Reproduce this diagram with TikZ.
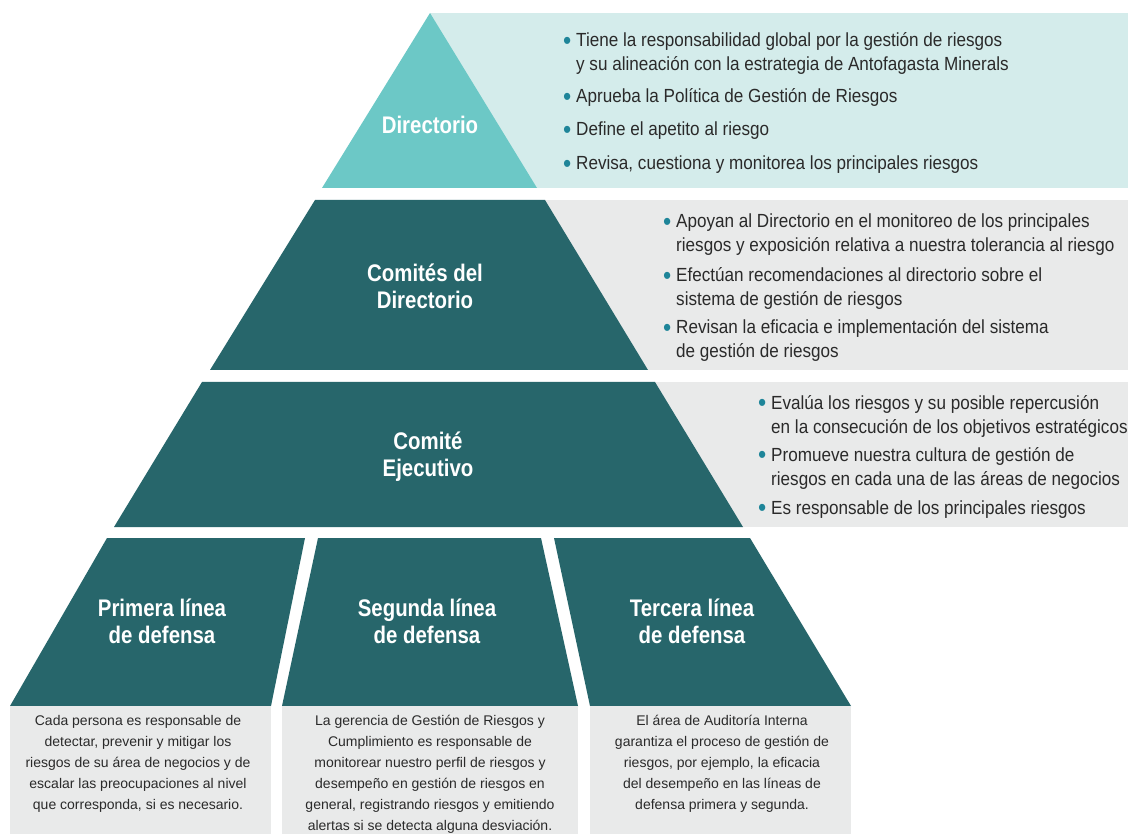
\documentclass[tikz,border=0pt]{standalone}
\usepackage{fontspec}
\setmainfont{Liberation Sans}
\newfontfamily\condfont[FakeStretch=0.9]{Liberation Sans}
\newfontfamily\headfont[FakeStretch=0.85]{Liberation Sans}
\definecolor{tealA}{HTML}{6CC8C6}
\definecolor{tealL}{HTML}{D4ECEB}
\definecolor{darkT}{HTML}{27666B}
\definecolor{grayL}{HTML}{E9EAEA}
\definecolor{bulC}{HTML}{1E8599}
\definecolor{txtC}{HTML}{2A2A2A}
\newcommand{\bulx}{\makebox[13pt][l]{\color{bulC}\raisebox{-2.5pt}{\fontsize{26}{26}\selectfont\textbullet}}}
\newcommand{\indx}{\hspace*{13pt}}
\begin{document}
\begin{tikzpicture}[x=1pt,y=-1pt,
  head/.style={text=white,font=\headfont\bfseries\fontsize{24}{27}\selectfont,align=center,inner sep=0pt,anchor=base},
  item/.style={text=txtC,font=\condfont\fontsize{19}{24}\selectfont,align=left,anchor=base west,inner sep=0pt},
  desc/.style={text=txtC,font=\fontsize{14}{21}\selectfont,align=center,anchor=base,inner sep=0pt}]
\useasboundingbox[fill=white] (0,0) rectangle (1128,834);
% level 1
\fill[tealL] (430,13) rectangle (1128,188);
\fill[tealA] (430,13) -- (537,188) -- (322,188) -- cycle;
% level 2
\fill[grayL] (540,200) rectangle (1128,370);
\fill[darkT] (315,200) -- (545,200) -- (648,370) -- (210,370) -- cycle;
% level 3
\fill[grayL] (650,382) rectangle (1128,527);
\fill[darkT] (202,382) -- (655,382) -- (743,527) -- (114,527) -- cycle;
% level 4
\fill[darkT] (107,538) -- (305,538) -- (271,706) -- (10,706) -- cycle;
\fill[grayL] (10,706) rectangle (271,834);
\fill[darkT] (318,538) -- (541,538) -- (578,706) -- (282,706) -- cycle;
\fill[grayL] (282,706) rectangle (578,834);
\fill[darkT] (554,538) -- (750,538) -- (851,706) -- (590,706) -- cycle;
\fill[grayL] (590,706) rectangle (851,834);

% headings (y = baseline of last line)
\node[head] (h1) at (430,134) {Directorio};
\node[head] (h2) at (425,309) {Comités del\\Directorio};
\node[head] (h3) at (428,476) {Comité\\Ejecutivo};
\node[head] (h4) at (162,643) {Primera línea\\de defensa};
\node[head] (h5) at (427,643) {Segunda línea\\de defensa};
\node[head] (h6) at (692,643) {Tercera línea\\de defensa};

% Directorio items
\node[item] (d1) at (563,71) {\bulx Tiene la responsabilidad global por la gestión de riesgos\\\indx y su alineación con la estrategia de Antofagasta Minerals};
\node[item] (d2) at (563,103) {\bulx Aprueba la Política de Gestión de Riesgos};
\node[item] (d3) at (563,136) {\bulx Define el apetito al riesgo};
\node[item] (d4) at (563,170) {\bulx Revisa, cuestiona y monitorea los principales riesgos};

% Comites items
\node[item] (c1) at (663,252) {\bulx Apoyan al Directorio en el monitoreo de los principales\\\indx riesgos y exposición relativa a nuestra tolerancia al riesgo};
\node[item] (c2) at (663,306) {\bulx Efectúan recomendaciones al directorio sobre el\\\indx sistema de gestión de riesgos};
\node[item] (c3) at (663,358) {\bulx Revisan la eficacia e implementación del sistema\\\indx de gestión de riesgos};

% Ejecutivo items
\node[item] (e1) at (758,433) {\bulx Evalúa los riesgos y su posible repercusión\\\indx en la consecución de los objetivos estratégicos};
\node[item] (e2) at (758,485) {\bulx Promueve nuestra cultura de gestión de\\\indx riesgos en cada una de las áreas de negocios};
\node[item] (e3) at (758,514) {\bulx Es responsable de los principales riesgos};

% descriptions (y = baseline of last line)
\node[desc] (p1) at (138,809) {Cada persona es responsable de\\detectar, prevenir y mitigar los\\riesgos de su área de negocios y de\\escalar las preocupaciones al nivel\\que corresponda, si es necesario.};
\node[desc] (p2) at (430,830) {La gerencia de Gestión de Riesgos y\\Cumplimiento es responsable de\\monitorear nuestro perfil de riesgos y\\desempeño en gestión de riesgos en\\general, registrando riesgos y emitiendo\\alertas si se detecta alguna desviación.};
\node[desc] (p3) at (722,809) {El área de Auditoría Interna\\garantiza el proceso de gestión de\\riesgos, por ejemplo, la eficacia\\del desempeño en las líneas de\\defensa primera y segunda.};
\end{tikzpicture}
\end{document}
